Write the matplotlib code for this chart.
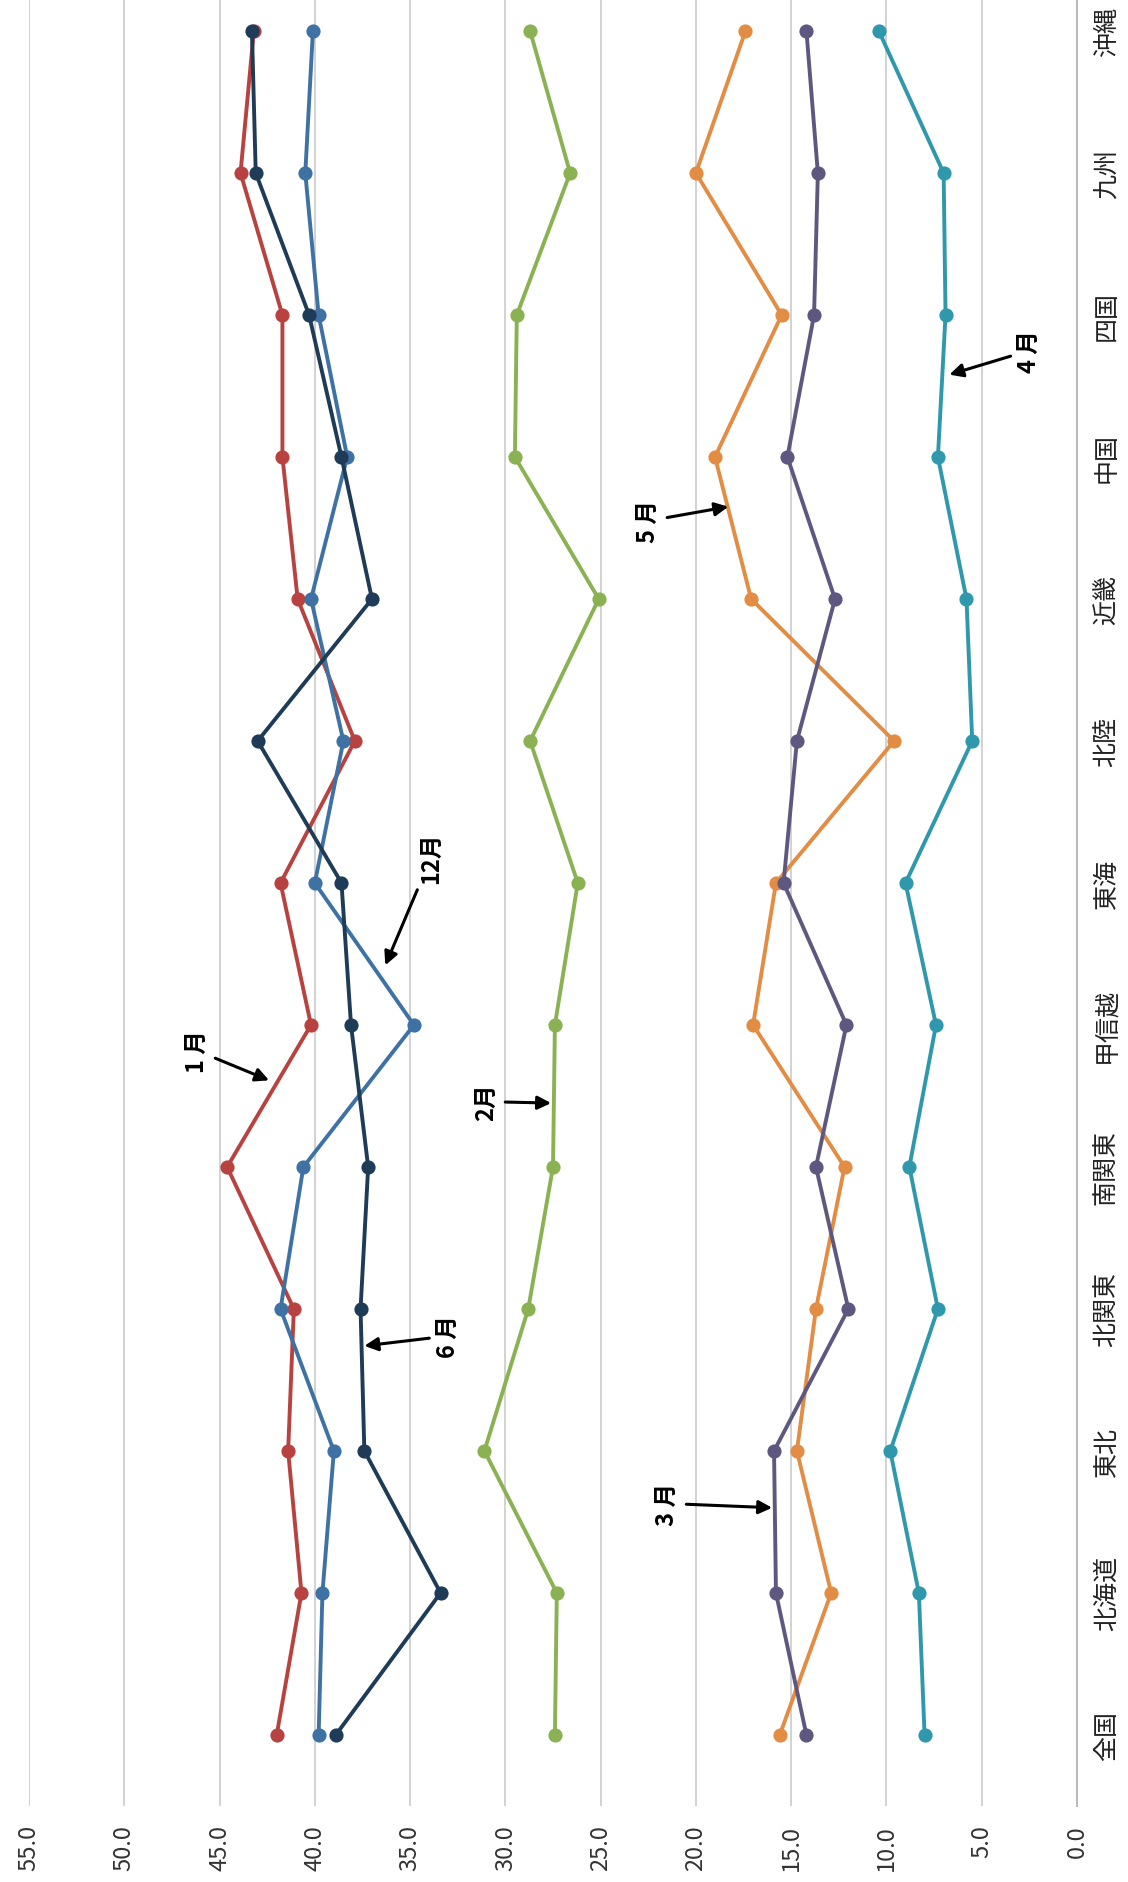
import matplotlib
matplotlib.use("Agg")
import matplotlib.pyplot as plt

plt.rcParams['font.family'] = ['Noto Sans CJK JP', 'DejaVu Sans']

regions = ['全国', '北海道', '東北', '北関東', '南関東', '甲信越', '東海',
           '北陸', '近畿', '中国', '四国', '九州', '沖縄']

jan = [42.0, 40.7, 41.4, 41.1, 44.6, 40.2, 41.8, 37.9, 40.9, 41.7, 41.7, 43.9, 43.2]
feb = [27.4, 27.3, 31.1, 28.8, 27.5, 27.4, 26.2, 28.7, 25.1, 29.5, 29.4, 26.6, 28.7]
mar = [14.2, 15.8, 15.9, 12.0, 13.7, 12.1, 15.4, 14.7, 12.7, 15.2, 13.8, 13.6, 14.2]
apr = [8.0, 8.3, 9.8, 7.3, 8.8, 7.4, 9.0, 5.5, 5.8, 7.3, 6.9, 7.0, 10.4]
may = [15.6, 12.9, 14.7, 13.7, 12.2, 17.0, 15.8, 9.6, 17.1, 19.0, 15.5, 20.0, 17.4]
jun = [38.9, 33.4, 37.4, 37.6, 37.2, 38.1, 38.6, 43.0, 37.0, 38.6, 40.3, 43.1, 43.3]
dec = [39.8, 39.6, 39.0, 41.8, 40.6, 34.8, 40.0, 38.5, 40.2, 38.3, 39.8, 40.5, 40.1]

series = [
    (jan, '#B8423F'),
    (dec, '#3E72A4'),
    (feb, '#8AB152'),
    (may, '#E38C43'),
    (mar, '#5E5880'),
    (apr, '#2F98AC'),
    (jun, '#1E3B57'),
]

# (label, arrow tip (value, region index), text position (value, region index))
notes = [
    ('1 月', (42.4, 4.61), (46.2, 4.82)),
    ('2月', (27.6, 4.45), (31.0, 4.46)),
    ('6 月', (37.4, 2.74), (33.0, 2.81)),
    ('12月', (36.3, 5.42), (33.9, 6.18)),
    ('3 月', (16.0, 1.60), (21.5, 1.63)),
    ('5 月', (18.3, 8.65), (22.5, 8.55)),
    ('4 月', (6.7, 9.58), (2.5, 9.75)),
]

fig = plt.figure(figsize=(11.28, 18.83), dpi=100)
fig.patch.set_facecolor('white')
# chart is laid out sideways: values run right-to-left, regions bottom-to-top
ax = fig.add_axes([0.0257, 0.0404, 0.9291, 0.9803])

pos = list(range(len(regions)))
for vals, col in series:
    ax.plot(vals, pos, color=col, lw=2.8, marker='o', ms=9,
            markerfacecolor=col, markeredgecolor=col, markeredgewidth=1.2,
            zorder=3)

ax.set_xlim(55, 0)
ax.set_ylim(-0.5, len(regions) - 0.5)

ticks = list(range(0, 56, 5))
ax.set_xticks(ticks)
ax.set_xticklabels([f'{t:.1f}' for t in ticks], rotation=90, fontsize=17,
                   color='#333333')
ax.tick_params(axis='x', length=0, pad=13)

ax.yaxis.tick_right()
ax.set_yticks(pos)
ax.set_yticklabels(regions, rotation=90, fontsize=18, va='center',
                   color='#222222')
ax.tick_params(axis='y', length=0, pad=12)

ax.grid(axis='x', color='#CFCFCF', lw=1.3)
ax.set_axisbelow(True)
for side in ['top', 'left', 'bottom']:
    ax.spines[side].set_visible(False)
ax.spines['right'].set_color('#BBBBBB')
ax.spines['right'].set_linewidth(1.5)

for label, tip, txt in notes:
    ax.annotate(label, xy=tip, xytext=txt, rotation=90, fontsize=17,
                fontweight='bold', ha='center', va='center', color='black',
                arrowprops=dict(arrowstyle='-|>', color='black', lw=2.2,
                                mutation_scale=20, shrinkA=3, shrinkB=0),
                zorder=5)

fig.savefig('out.png', dpi=100, facecolor='white')
